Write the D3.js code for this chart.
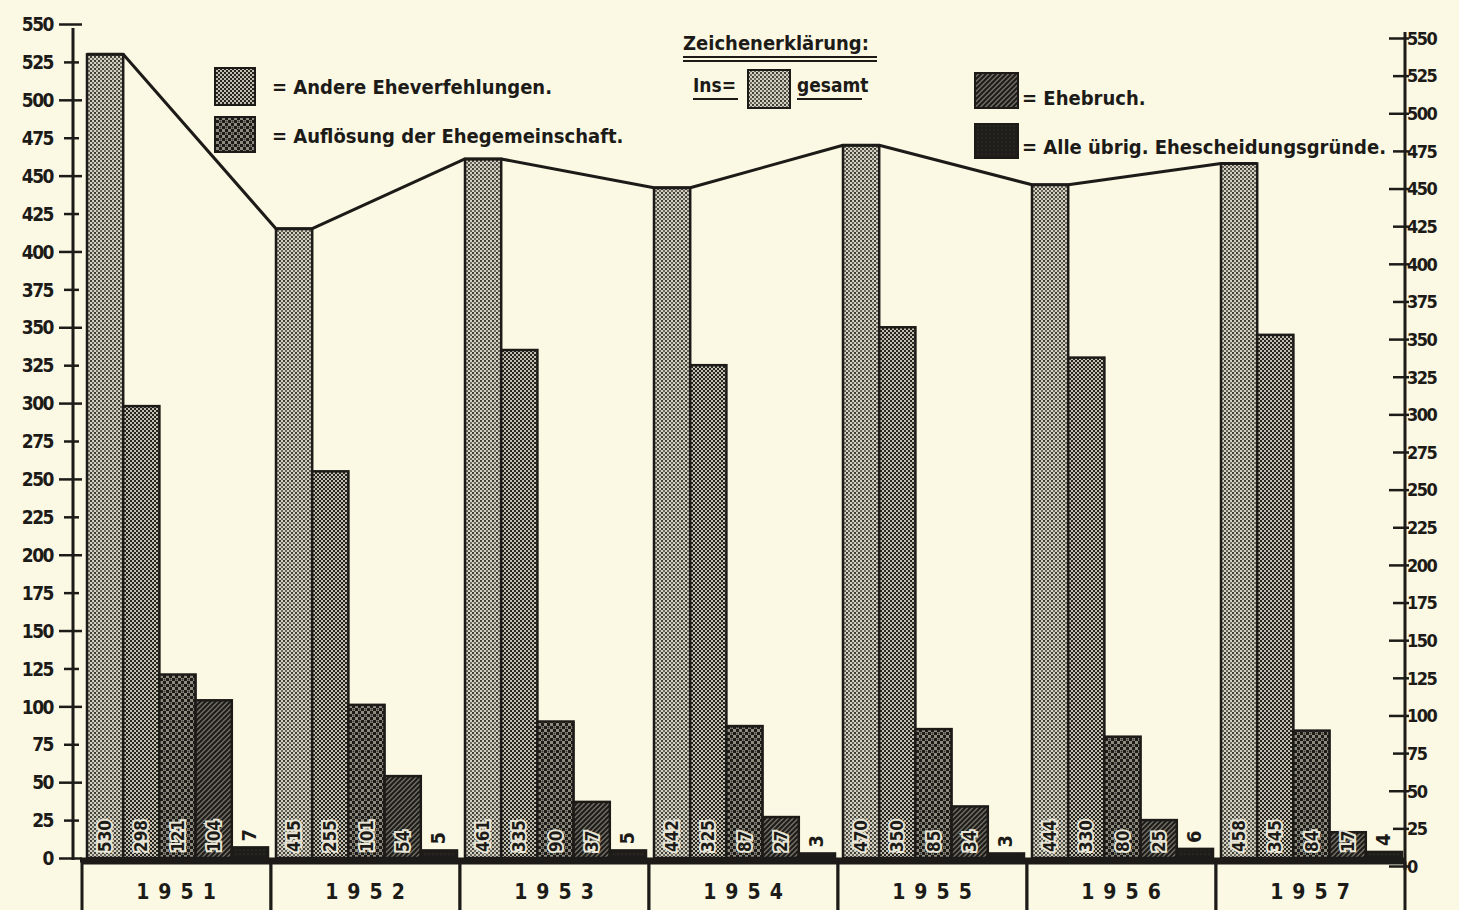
<!DOCTYPE html>
<html>
<head>
<meta charset="utf-8">
<script src="https://cdn.jsdelivr.net/npm/d3@7/dist/d3.min.js"></script>
<style>
  html, body { margin: 0; padding: 0; background: #fbf8e4; }
  svg { display: block; }
  text { font-family: "DejaVu Sans Condensed", "DejaVu Sans", sans-serif; font-weight: bold; fill: #1c1b18; }
</style>
</head>
<body>
<svg id="chart" width="1459" height="910"></svg>
<script>
// ---- data ----
const years = ["1951", "1952", "1953", "1954", "1955", "1956", "1957"];
const series = ["insgesamt", "andere", "aufloesung", "ehebruch", "uebrige"];
const insgesamt  = [530, 415, 461, 442, 470, 444, 458];
const andere     = [298, 255, 335, 325, 350, 330, 345];
const aufloesung = [121, 101, 90, 87, 85, 80, 84];
const ehebruch   = [104, 54, 37, 27, 34, 25, 17];
const uebrige    = [7, 5, 5, 3, 3, 6, 4];
const yTicks = [0, 25, 50, 75, 100, 125, 150, 175, 200, 225, 250, 275, 300, 325, 350, 375, 400, 425, 450, 475, 500, 525, 550];
const legendTitle = "Zeichenerklärung:";
const legendLabels = {
  andere: "= Andere Eheverfehlungen.",
  aufloesung: "= Auflösung der Ehegemeinschaft.",
  ehebruch: "= Ehebruch.",
  uebrige: "= Alle übrig. Ehescheidungsgründe."
};

const values = { insgesamt, andere, aufloesung, ehebruch, uebrige };
const rows = years.map((yr, i) => ({ year: yr, vals: series.map(s => ({ key: s, value: values[s][i] })) }));

const svg = d3.select("#chart");
const defs = svg.append("defs");

// ---- patterns ----
function pat(id, size, build) {
  const p = defs.append("pattern").attr("id", id).attr("patternUnits", "userSpaceOnUse")
    .attr("width", size).attr("height", size);
  build(p);
}
pat("pInsg", 4, p => {
  p.append("rect").attr("width", 4).attr("height", 4).attr("fill", "#d3d0c0");
  p.append("circle").attr("cx", 1).attr("cy", 1).attr("r", 1.1).attr("fill", "#2f2d29");
  p.append("circle").attr("cx", 3).attr("cy", 3).attr("r", 1.0).attr("fill", "#45433d");
});
pat("pAndere", 4, p => {
  p.append("rect").attr("width", 4).attr("height", 4).attr("fill", "#c2bfb0");
  p.append("rect").attr("x", 0).attr("y", 0).attr("width", 2).attr("height", 2).attr("fill", "#26241f");
  p.append("rect").attr("x", 2).attr("y", 2).attr("width", 2).attr("height", 2).attr("fill", "#26241f");
});
pat("pAufl", 6, p => {
  p.append("rect").attr("width", 6).attr("height", 6).attr("fill", "#8e8b7f");
  p.append("rect").attr("x", 0).attr("y", 0).attr("width", 3).attr("height", 3).attr("fill", "#1c1b18");
  p.append("rect").attr("x", 3).attr("y", 3).attr("width", 3).attr("height", 3).attr("fill", "#1c1b18");
  p.append("circle").attr("cx", 4.5).attr("cy", 1.5).attr("r", 0.9).attr("fill", "#3a3833");
});
pat("pEheb", 5, p => {
  p.append("rect").attr("width", 5).attr("height", 5).attr("fill", "#6f6c62");
  p.append("path").attr("d", "M-1,1 L1,-1 M0,5 L5,0 M4,6 L6,4").attr("stroke", "#1c1b18").attr("stroke-width", 2);
});
pat("pUebr", 4, p => {
  p.append("rect").attr("width", 4).attr("height", 4).attr("fill", "#1e1d1a");
  p.append("circle").attr("cx", 2).attr("cy", 2).attr("r", 0.5).attr("fill", "#4a4842");
});
const fills = { insgesamt: "url(#pInsg)", andere: "url(#pAndere)", aufloesung: "url(#pAufl)", ehebruch: "url(#pEheb)", uebrige: "url(#pUebr)" };

// ---- scales ----
const x0 = d3.scaleBand().domain(years).range([82, 1405]).padding(0);
const x1 = d3.scaleBand().domain(series).range([5, x0.bandwidth() - 3]).padding(0);
const y = d3.scaleLinear().domain([0, 550]).range([858, 24]);
const yR = d3.scaleLinear().domain([0, 550]).range([866, 38]);

// ---- bars ----
const g = svg.append("g");
const groups = g.selectAll("g.year").data(rows).join("g")
  .attr("transform", d => `translate(${x0(d.year)},0)`);

groups.selectAll("rect.bar").data(d => d.vals).join("rect")
  .attr("class", "bar")
  .attr("x", d => x1(d.key))
  .attr("width", x1.bandwidth())
  .attr("y", d => y(d.value))
  .attr("height", d => y(0) - y(d.value))
  .attr("fill", d => fills[d.key])
  .attr("stroke", "#1c1b18").attr("stroke-width", 2.5);

// value labels (rotated)
groups.selectAll("text.val").data(d => d.vals).join("text")
  .attr("class", "val")
  .attr("transform", d => {
    const cx = x1(d.key) + x1.bandwidth() / 2 + 6;
    const yy = d.key === "uebrige" ? y(d.value) - 6 : y(0) - 6;
    return `translate(${cx},${yy}) rotate(-90)`;
  })
  .attr("font-size", d => d.key === "uebrige" ? 20 : 17)
  .attr("text-anchor", "start")
  .attr("stroke", d => d.key === "uebrige" ? "none" : "#e8e5d6")
  .attr("stroke-width", 4)
  .attr("paint-order", "stroke")
  .text(d => d.value);

// ---- line over totals ----
const linePts = [];
rows.forEach(r => {
  const v = r.vals[0].value;
  linePts.push([x0(r.year) + x1("insgesamt"), y(v)]);
  linePts.push([x0(r.year) + x1("insgesamt") + x1.bandwidth(), y(v)]);
});
svg.append("path").attr("d", d3.line()(linePts))
  .attr("fill", "none").attr("stroke", "#1c1b18").attr("stroke-width", 3).attr("stroke-linejoin", "round");

// ---- baseline ----
svg.append("line").attr("x1", 80).attr("x2", 1405).attr("y1", y(0) + 2).attr("y2", y(0) + 2)
  .attr("stroke", "#1c1b18").attr("stroke-width", 5);

// ---- year boxes ----
const yb = svg.append("g");
yb.selectAll("rect").data(years).join("rect")
  .attr("x", d => x0(d)).attr("width", x0.bandwidth())
  .attr("y", y(0) + 5).attr("height", 60)
  .attr("fill", "#fbf8e4").attr("stroke", "#1c1b18").attr("stroke-width", 3);
yb.selectAll("text").data(years).join("text")
  .attr("x", d => x0(d) + x0.bandwidth() / 2 + 4)
  .attr("y", 899)
  .attr("text-anchor", "middle")
  .attr("font-family", "'DejaVu Sans Mono', monospace")
  .attr("font-size", 21)
  .attr("letter-spacing", 9)
  .text(d => d);

// ---- left axis ----
const axL = svg.append("g").attr("transform", "translate(73,0)")
  .call(d3.axisLeft(y).tickValues(yTicks).tickSize(0).tickPadding(0));
axL.select(".domain").remove();
axL.append("line").attr("y1", y(550) + 4).attr("y2", y(0) + 2).attr("stroke", "#1c1b18").attr("stroke-width", 3);
axL.selectAll(".tick line").attr("x1", d => d % 50 === 0 ? -14 : -9).attr("x2", d => d % 50 === 0 ? 9 : 6)
  .attr("stroke", "#1c1b18").attr("stroke-width", 2.5);
axL.selectAll(".tick text").attr("x", -20).attr("dy", "0.35em")
  .attr("font-size", 19).attr("letter-spacing", -1.5)
  .attr("font-family", "'DejaVu Sans Condensed', sans-serif").attr("font-weight", "bold").attr("fill", "#1c1b18");

// ---- right axis ----
const axR = svg.append("g").attr("transform", "translate(1405,0)")
  .call(d3.axisRight(yR).tickValues(yTicks).tickSize(0).tickPadding(0));
axR.select(".domain").remove();
axR.append("line").attr("y1", yR(550) - 6).attr("y2", yR(0) + 4).attr("stroke", "#1c1b18").attr("stroke-width", 3);
axR.selectAll(".tick line").attr("x1", d => d % 50 === 0 ? -16 : -12).attr("x2", 4)
  .attr("stroke", "#1c1b18").attr("stroke-width", 2.5);
axR.selectAll(".tick text").attr("x", 2).attr("dy", "0.35em")
  .attr("font-size", 18).attr("letter-spacing", -1.5)
  .attr("font-family", "'DejaVu Sans Condensed', sans-serif").attr("font-weight", "bold").attr("fill", "#1c1b18");

// ---- legend ----
const lg = svg.append("g");
function swatch(key, x, yy, w, h) {
  lg.append("rect").attr("x", x).attr("y", yy).attr("width", w).attr("height", h)
    .attr("fill", fills[key]).attr("stroke", "#1c1b18").attr("stroke-width", 2);
}
lg.append("text").attr("x", 683).attr("y", 50).attr("font-size", 20).text(legendTitle);
lg.append("line").attr("x1", 683).attr("x2", 877).attr("y1", 57).attr("y2", 57).attr("stroke", "#1c1b18").attr("stroke-width", 2);
lg.append("line").attr("x1", 683).attr("x2", 877).attr("y1", 61).attr("y2", 61).attr("stroke", "#1c1b18").attr("stroke-width", 2);

swatch("andere", 215, 68, 40, 37);
lg.append("text").attr("x", 272).attr("y", 94).attr("font-size", 20).text(legendLabels.andere);
swatch("aufloesung", 215, 117, 40, 35);
lg.append("text").attr("x", 272).attr("y", 143).attr("font-size", 20).text(legendLabels.aufloesung);

lg.append("text").attr("x", 693).attr("y", 92).attr("font-size", 19).text("Ins=");
lg.append("line").attr("x1", 693).attr("x2", 738).attr("y1", 99).attr("y2", 99).attr("stroke", "#1c1b18").attr("stroke-width", 2);
swatch("insgesamt", 748, 70, 42, 38);
lg.append("text").attr("x", 797).attr("y", 92).attr("font-size", 19).text("gesamt");
lg.append("line").attr("x1", 797).attr("x2", 862).attr("y1", 99).attr("y2", 99).attr("stroke", "#1c1b18").attr("stroke-width", 2);

swatch("ehebruch", 975, 73, 43, 35);
lg.append("text").attr("x", 1022).attr("y", 105).attr("font-size", 20).text(legendLabels.ehebruch);
swatch("uebrige", 975, 124, 43, 34);
lg.append("text").attr("x", 1022).attr("y", 154).attr("font-size", 20).text(legendLabels.uebrige);
</script>
</body>
</html>
